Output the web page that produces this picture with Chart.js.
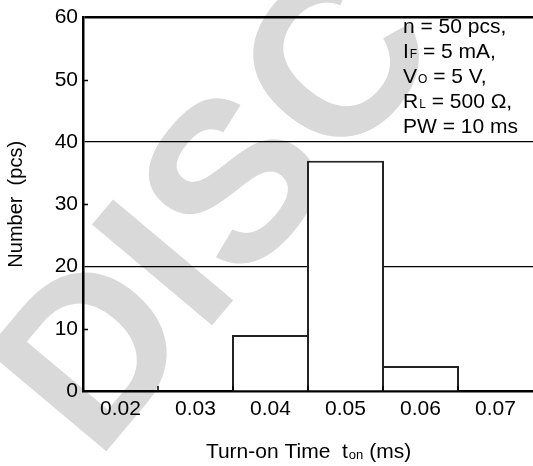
<!DOCTYPE html>
<html>
<head>
<meta charset="utf-8">
<script src="https://cdn.jsdelivr.net/npm/chart.js@4.4.0/dist/chart.umd.min.js"></script>
<style>
  html, body { margin: 0; padding: 0; background: #fff; }
  canvas { display: block; }
</style>
</head>
<body>
<canvas id="grafico" width="533" height="466"></canvas>
<script>
var categorias = ['0.02', '0.03', '0.04', '0.05', '0.06', '0.07']
var quantidades = [0, 0, 9, 37, 4, 0]
var yMin = 0
var yMax = 60
var yPasso = 10
var linhasGrade = [20, 40, 60]

// condicoes de teste: [texto, subscrito, resto]
var condicoes = [
    ['n = 50 pcs,', '', ''],
    ['I', 'F', ' = 5 mA,'],
    ['V', 'O', ' = 5 V,'],
    ['R', 'L', ' = 500 \u03A9,'],
    ['PW = 10 ms', '', '']
]

var tituloY = 'Number  (pcs)'
var tituloX = ['Turn-on Time  t', 'on', ' (ms)']
var marcaDagua = 'DISC'

var fonte = "'Liberation Sans', Arial, sans-serif"

// desenha a marca d'agua antes de tudo
var pluginFundo = {
    id: 'fundo',
    beforeDraw: function(chart) {
        var ctx = chart.ctx
        ctx.save()
        ctx.fillStyle = '#fff'
        ctx.fillRect(0, 0, chart.width, chart.height)
        ctx.translate(209, 202)
        ctx.rotate(-50 * Math.PI / 180)
        ctx.font = 'bold 228px ' + fonte
        ctx.fillStyle = '#d9d9d9'
        ctx.textAlign = 'center'
        ctx.textBaseline = 'alphabetic'
        ctx.fillText(marcaDagua, 0, 228 * 0.358)
        ctx.restore()
    }
}

// tracinhos internos dos eixos, titulo do eixo x e texto das condicoes
var pluginExtras = {
    id: 'extras',
    afterDatasetsDraw: function(chart) {
        var ctx = chart.ctx
        var area = chart.chartArea
        var x = chart.scales.x
        var y = chart.scales.y
        ctx.save()
        ctx.strokeStyle = '#000'
        ctx.lineWidth = 1.5
        for (var v = yMin + yPasso; v < yMax; v += yPasso) {
            if (linhasGrade.indexOf(v) >= 0) continue
            var py = Math.round(y.getPixelForValue(v)) + 0.5
            ctx.beginPath()
            ctx.moveTo(area.left, py)
            ctx.lineTo(area.left + 5, py)
            ctx.stroke()
        }
        for (var i = 1; i < categorias.length; i++) {
            var px = (x.getPixelForValue(i - 1) + x.getPixelForValue(i)) / 2
            ctx.beginPath()
            ctx.moveTo(px, area.bottom)
            ctx.lineTo(px, area.bottom - 5)
            ctx.stroke()
        }
        ctx.restore()
    },
    afterDraw: function(chart) {
        var ctx = chart.ctx
        var area = chart.chartArea
        ctx.save()
        ctx.fillStyle = '#000'
        ctx.textBaseline = 'alphabetic'
        ctx.textAlign = 'left'

        // titulo do eixo x com subscrito
        var fGrande = '21px ' + fonte
        var fPequena = '13px ' + fonte
        ctx.font = fGrande
        var w1 = ctx.measureText(tituloX[0]).width
        var w3 = ctx.measureText(tituloX[2]).width
        ctx.font = fPequena
        var w2 = ctx.measureText(tituloX[1]).width
        var cx = (area.left + area.right) / 2
        var xi = cx - (w1 + w2 + w3) / 2
        ctx.font = fGrande
        ctx.fillText(tituloX[0], xi, 458)
        ctx.font = fPequena
        ctx.fillText(tituloX[1], xi + w1 + 1, 459)
        ctx.font = fGrande
        ctx.fillText(tituloX[2], xi + w1 + w2 + 1, 458)

        // condicoes
        var fSub = '12px ' + fonte
        for (var k = 0; k < condicoes.length; k++) {
            var linha = condicoes[k]
            var base = 32.5 + 25 * k
            var px = 403
            ctx.font = fGrande
            ctx.fillText(linha[0], px, base)
            px += ctx.measureText(linha[0]).width
            if (linha[1]) {
                ctx.font = fSub
                ctx.fillText(linha[1], px + 1, base)
                px += ctx.measureText(linha[1]).width + 1
            }
            if (linha[2]) {
                ctx.font = fGrande
                ctx.fillText(linha[2], px, base)
            }
        }
        ctx.restore()
    }
}

var ctx = document.getElementById('grafico')
var chart = new Chart(ctx, {
    type: 'bar',
    data: {
        labels: categorias,
        datasets: [{
            data: quantidades,
            backgroundColor: '#fff',
            borderColor: '#222',
            borderWidth: 2,
            borderSkipped: 'start',
            categoryPercentage: 1,
            barPercentage: 1.027
        }]
    },
    options: {
        responsive: false,
        animation: false,
        devicePixelRatio: 1,
        layout: { padding: { top: 13, right: 0, left: 0, bottom: 0 } },
        plugins: {
            legend: { display: false },
            tooltip: { enabled: false }
        },
        scales: {
            x: {
                afterFit: function(scale) { scale.height = 75 },
                grid: { display: false, drawTicks: false },
                border: { display: true, color: '#000', width: 2.5 },
                ticks: {
                    color: '#000',
                    padding: 6,
                    font: { family: fonte, size: 21 }
                }
            },
            y: {
                min: yMin,
                max: yMax,
                afterFit: function(scale) { scale.width = 83 },
                grid: {
                    drawTicks: false,
                    color: function(c) {
                        return linhasGrade.indexOf(c.tick.value) >= 0 ? '#000' : 'rgba(0,0,0,0)'
                    },
                    lineWidth: function(c) {
                        return c.tick.value === yMax ? 2.5 : 1.2
                    }
                },
                border: { display: true, color: '#000', width: 2.5 },
                ticks: {
                    stepSize: yPasso,
                    color: '#000',
                    padding: 5,
                    font: { family: fonte, size: 21 }
                },
                title: {
                    display: true,
                    text: tituloY,
                    color: '#000',
                    font: { family: fonte, size: 20 },
                    padding: { top: 4, bottom: 0 }
                }
            }
        }
    },
    plugins: [pluginFundo, pluginExtras]
})
</script>
</body>
</html>
